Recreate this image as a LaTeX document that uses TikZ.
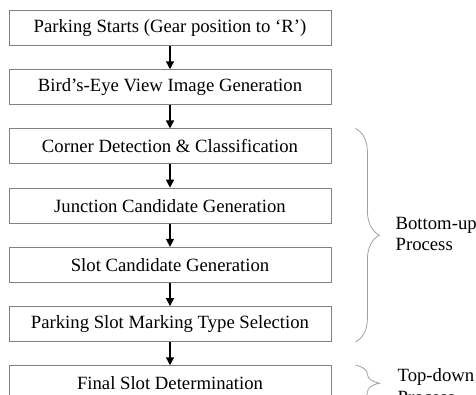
\documentclass[tikz,border=0pt]{standalone}
\usepackage{fontspec}
\setmainfont{Liberation Serif}
\usepackage{xcolor}
\usetikzlibrary{arrows.meta,positioning,calc,decorations.pathreplacing}
\definecolor{border}{HTML}{808080}
\definecolor{bracec}{HTML}{A0A0A0}
\tikzset{
  stepbox/.style={draw=border, line width=0.9pt, minimum width=322pt, minimum height=35pt,
    inner sep=0pt, font=\fontsize{18.7}{21.5}\selectfont},
  flow/.style={-{Triangle[length=8pt,width=8pt]}, line width=1.4pt, draw=black},
  brc/.style={decorate, decoration={brace, amplitude=24pt}, line width=0.8pt, draw=bracec},
  lab/.style={align=left, inner sep=0pt, font=\fontsize{18.7}{21.5}\selectfont}
}
\begin{document}
\begin{tikzpicture}[x=1pt, y=1pt, node distance=23.3pt]
  \useasboundingbox (0,0) rectangle (476,-394);

  \node[stepbox] (start) at (170,-28) {Parking Starts (Gear position to `R')};
  \node[stepbox, below=of start] (bev) {Bird's-Eye View Image Generation};
  \node[stepbox, below=of bev] (corner) {Corner Detection \& Classification};
  \node[stepbox, below=of corner] (junc) {Junction Candidate Generation};
  \node[stepbox, below=of junc] (slot) {Slot Candidate Generation};
  \node[stepbox, below=of slot] (type) {Parking Slot Marking Type Selection};
  \node[stepbox, below=of type] (final) {Final Slot Determination};

  \foreach \a/\b in {start/bev, bev/corner, corner/junc, junc/slot, slot/type, type/final}
    \draw[flow] (\a) -- (\b);

  % braces on the right
  \coordinate[xshift=24pt] (bu1) at (corner.north east);
  \coordinate[xshift=24pt] (bu2) at (type.south east);
  \coordinate[xshift=24pt] (td1) at (final.north east);
  \coordinate[xshift=24pt] (td2) at (final.south east);
  \draw[brc] (bu1) -- (bu2);
  \draw[brc] (td1) -- (td2);

  \node[lab, anchor=west] (bulab) at ($(bu1)!0.5!(bu2)+(40pt,1pt)$) {Bottom-up\\Process};
  \node[lab, anchor=west] (tdlab) at ($(td1)!0.5!(td2)+(42pt,-3pt)$) {Top-down\\Process};
\end{tikzpicture}
\end{document}
